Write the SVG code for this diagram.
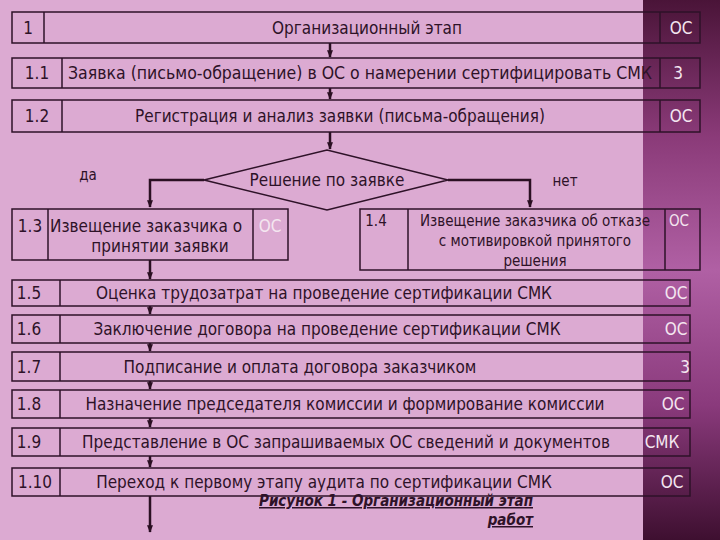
<svg xmlns="http://www.w3.org/2000/svg" width="720" height="540" viewBox="0 0 720 540">
<defs>
<linearGradient id="strip" x1="0" y1="0" x2="0" y2="1">
<stop offset="0" stop-color="#4a1438"/><stop offset="0.25" stop-color="#8a3a78"/><stop offset="0.5" stop-color="#b060a4"/><stop offset="0.75" stop-color="#8a3a7c"/><stop offset="1" stop-color="#3e0f30"/>
</linearGradient>
<marker id="ah" viewBox="0 0 10 10" refX="9" refY="5" markerWidth="3" markerHeight="3" orient="auto"><path d="M0,1 L10,5 L0,9 z" fill="#2a0f22"/></marker>
<style>
text{font-family:"DejaVu Sans Condensed","DejaVu Sans",sans-serif;font-size:17px;fill:#2e1228}
.b{fill:none;stroke:#2e1228;stroke-width:1.5}
.c line,.c polyline{stroke:#2a0f22;stroke-width:2.5;fill:none;marker-end:url(#ah)}
.w{fill:#f4e6f0}
.m{text-anchor:middle}
.s{font-size:15px}
</style>
</defs>
<rect width="720" height="540" fill="#dcaad2"/>
<rect x="643" y="0" width="77" height="540" fill="url(#strip)"/>
<g class="c">
<line x1="330" y1="43" x2="330" y2="57"/>
<line x1="330" y1="88" x2="330" y2="99"/>
<line x1="330" y1="132" x2="330" y2="149"/>
<polyline points="204,180 150,180 150,207"/>
<polyline points="448,180 530,180 530,207"/>
<line x1="150" y1="260" x2="150" y2="279"/>
<line x1="150" y1="306" x2="150" y2="314"/>
<line x1="150" y1="343" x2="150" y2="351"/>
<line x1="150" y1="381" x2="150" y2="389"/>
<line x1="150" y1="418" x2="150" y2="427"/>
<line x1="150" y1="456" x2="150" y2="467"/>
<line x1="150" y1="496" x2="150" y2="532"/>
</g>
<g id="n1"><rect class="b" x="12" y="12" width="688" height="31"/><line class="b" x1="44" y1="12" x2="44" y2="43"/><line class="b" x1="660" y1="12" x2="660" y2="43"/>
<text x="28" y="34" class="m">1</text><text x="367" y="34" class="m">Организационный этап</text><text x="681" y="34" class="m w">ОС</text></g>
<g id="n11"><rect class="b" x="12" y="58" width="688" height="30"/><line class="b" x1="62" y1="58" x2="62" y2="88"/><line class="b" x1="660" y1="58" x2="660" y2="88"/>
<text x="37" y="79" class="m">1.1</text><text x="68" y="79" textLength="584" lengthAdjust="spacingAndGlyphs">Заявка (письмо-обращение) в ОС о намерении сертифицировать СМК</text><text x="678" y="79" class="m w">3</text></g>
<g id="n12"><rect class="b" x="12" y="100" width="688" height="32"/><line class="b" x1="62" y1="100" x2="62" y2="132"/><line class="b" x1="660" y1="100" x2="660" y2="132"/>
<text x="37" y="122" class="m">1.2</text><text x="340" y="122" class="m">Регистрация и анализ заявки (письма-обращения)</text><text x="681" y="122" class="m w">ОС</text></g>
<g id="dec"><polygon class="b" points="204,180 327,150 448,180 327,210"/><text x="327" y="186" class="m">Решение по заявке</text></g>
<text x="88" y="180" class="m s">да</text>
<text x="565" y="186" class="m s">нет</text>
<g id="n13"><rect class="b" x="12" y="209" width="276" height="51"/><line class="b" x1="48" y1="209" x2="48" y2="260"/><line class="b" x1="253" y1="209" x2="253" y2="260"/>
<text x="30" y="232" class="m">1.3</text><text x="50" y="232">Извещение заказчика о</text><text x="160" y="252" class="m">принятии заявки</text><text x="270" y="232" class="m w">ОС</text></g>
<g id="n14"><rect class="b" x="360" y="209" width="340" height="61"/><line class="b" x1="408" y1="209" x2="408" y2="270"/><line class="b" x1="665" y1="209" x2="665" y2="270"/>
<text x="376" y="226" class="m s">1.4</text><text x="535" y="226" class="m s">Извещение заказчика об отказе</text><text x="535" y="246" class="m s">с мотивировкой принятого</text><text x="535" y="266" class="m s">решения</text><text x="679" y="226" class="m w s">ОС</text></g>
<g id="n15"><rect class="b" x="12" y="280" width="678" height="26"/><line class="b" x1="60" y1="280" x2="60" y2="306"/><text x="29" y="299" class="m">1.5</text><text x="324" y="299" class="m">Оценка трудозатрат на проведение сертификации СМК</text><text x="676" y="299" class="m w">ОС</text></g>
<g id="n16"><rect class="b" x="12" y="315" width="678" height="28"/><line class="b" x1="60" y1="315" x2="60" y2="343"/><text x="29" y="335" class="m">1.6</text><text x="327" y="335" class="m">Заключение договора на проведение сертификации СМК</text><text x="676" y="335" class="m w">ОС</text></g>
<g id="n17"><rect class="b" x="12" y="352" width="678" height="29"/><line class="b" x1="60" y1="352" x2="60" y2="381"/><text x="29" y="373" class="m">1.7</text><text x="300" y="373" class="m">Подписание и оплата договора заказчиком</text><text x="685" y="373" class="m w">3</text></g>
<g id="n18"><rect class="b" x="12" y="390" width="678" height="28"/><line class="b" x1="60" y1="390" x2="60" y2="418"/><text x="29" y="410" class="m">1.8</text><text x="345" y="410" class="m">Назначение председателя комиссии и формирование комиссии</text><text x="673" y="410" class="m w">ОС</text></g>
<g id="n19"><rect class="b" x="12" y="428" width="678" height="28"/><line class="b" x1="60" y1="428" x2="60" y2="456"/><text x="29" y="448" class="m">1.9</text><text x="346" y="448" class="m">Представление в ОС запрашиваемых ОС сведений и документов</text><text x="662" y="448" class="m w">СМК</text></g>
<g id="n110"><rect class="b" x="12" y="468" width="678" height="28"/><line class="b" x1="60" y1="468" x2="60" y2="496"/><text x="35" y="488" class="m">1.10</text><text x="324" y="488" class="m">Переход к первому этапу аудита по сертификации СМК</text><text x="672" y="488" class="m w">ОС</text></g>
<g id="caption"><text x="533" y="506" style="text-anchor:end;font-size:15px;font-style:italic;font-weight:bold;text-decoration:underline">Рисунок 1 - Организационный этап</text><text x="533" y="525" style="text-anchor:end;font-size:15px;font-style:italic;font-weight:bold;text-decoration:underline">работ</text></g>
</svg>
